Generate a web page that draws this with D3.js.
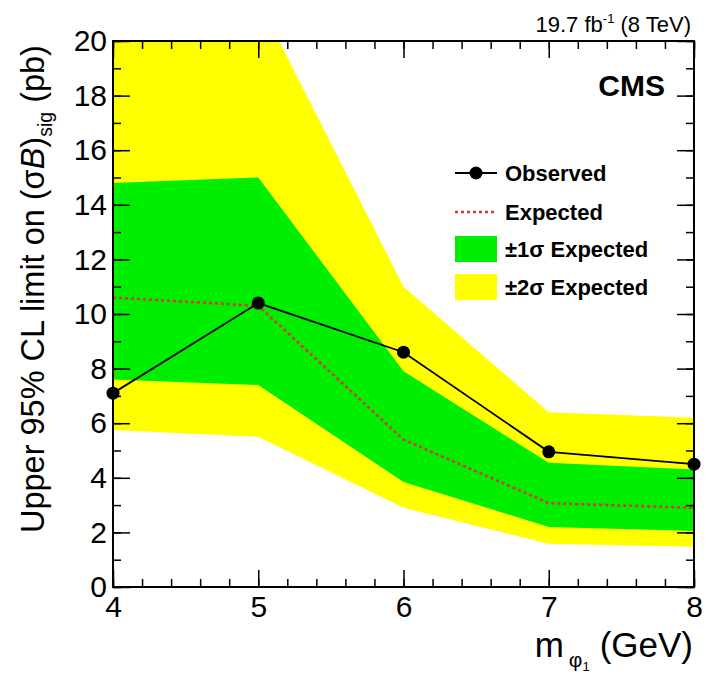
<!DOCTYPE html>
<html>
<head>
<meta charset="utf-8">
<script src="https://cdn.jsdelivr.net/npm/d3@7"></script>
<style>
  body { margin: 0; background: #fff; }
  svg text { font-family: "Liberation Sans", Arial, Helvetica, sans-serif; }
</style>
</head>
<body>
<div id="chart"></div>
<script>
// Valores
const masses = [4, 5, 6, 7, 8];
const observed = [7.1, 10.4, 8.6, 4.95, 4.5];
const expected = [10.6, 10.3, 5.4, 3.07, 2.9];
const sigma1Up = [14.8, 15.0, 7.9, 4.55, 4.3];
const sigma1Down = [7.6, 7.4, 3.85, 2.2, 2.05];
const sigma2Up = [22.0, 21.5, 11.0, 6.4, 6.2];
const sigma2Down = [5.75, 5.5, 2.9, 1.58, 1.47];

const xTicks = [4, 5, 6, 7, 8];
const yTicks = [0, 2, 4, 6, 8, 10, 12, 14, 16, 18, 20];
const legendLabels = ["Observed", "Expected", "\u00b11\u03c3 Expected", "\u00b12\u03c3 Expected"];

const WIDTH = 708;
const HEIGHT = 678;
const MARGIN = { top: 41, bottom: 91, left: 113, right: 14 };

const YELLOW = "#ffff00";
const GREEN = "#00ee00";
const RED = "#e0303a";

const svg = d3.select("#chart").append("svg").attr("width", WIDTH).attr("height", HEIGHT);

const x = d3.scaleLinear().domain([4, 8]).range([MARGIN.left, WIDTH - MARGIN.right]);
const y = d3.scaleLinear().domain([0, 20]).range([HEIGHT - MARGIN.bottom, MARGIN.top]);

const rows = masses.map((m, i) => ({
  m: m, obs: observed[i], exp: expected[i],
  s1u: sigma1Up[i], s1d: sigma1Down[i], s2u: sigma2Up[i], s2d: sigma2Down[i]
}));

// Recorte al area del grafico
svg.append("clipPath").attr("id", "plot-clip")
  .append("rect")
  .attr("x", x(4)).attr("y", y(20))
  .attr("width", x(8) - x(4)).attr("height", y(0) - y(20));

const plot = svg.append("g").attr("clip-path", "url(#plot-clip)");

// Bandas
const area2 = d3.area().x(d => x(d.m)).y0(d => y(d.s2d)).y1(d => y(d.s2u));
const area1 = d3.area().x(d => x(d.m)).y0(d => y(d.s1d)).y1(d => y(d.s1u));
plot.append("path").datum(rows).attr("d", area2).attr("fill", YELLOW);
plot.append("path").datum(rows).attr("d", area1).attr("fill", GREEN);

// Esperado
plot.append("path").datum(rows)
  .attr("d", d3.line().x(d => x(d.m)).y(d => y(d.exp)))
  .attr("fill", "none").attr("stroke", RED).attr("stroke-width", 2.5)
  .attr("stroke-dasharray", "3,3");

// Observado
plot.append("path").datum(rows)
  .attr("d", d3.line().x(d => x(d.m)).y(d => y(d.obs)))
  .attr("fill", "none").attr("stroke", "#000").attr("stroke-width", 1.8);

svg.selectAll(".obs-dot").data(rows).join("circle").attr("class", "obs-dot")
  .attr("cx", d => x(d.m)).attr("cy", d => y(d.obs)).attr("r", 6.5).attr("fill", "#000");

// Ejes (ticks hacia adentro, estilo ROOT)
const xMinor = d3.range(4, 8.001, 0.2);
const yMinor = d3.range(0, 20.001, 1);

function styleAxis(g) {
  g.select(".domain").remove();
  g.selectAll("line").attr("stroke", "#000").attr("stroke-width", 1.5);
  g.selectAll("text").attr("font-size", "30px").attr("fill", "#000");
}

const H = HEIGHT - MARGIN.bottom;
const R = WIDTH - MARGIN.right;

svg.append("g").attr("transform", `translate(0,${H})`)
  .call(d3.axisBottom(x).tickValues(xMinor).tickSize(-8).tickFormat("")).call(styleAxis);
svg.append("g").attr("transform", `translate(0,${H})`)
  .call(d3.axisBottom(x).tickValues(xTicks).tickSize(-17).tickPadding(9).tickFormat(d3.format("d"))).call(styleAxis);
svg.append("g").attr("transform", `translate(0,${MARGIN.top})`)
  .call(d3.axisTop(x).tickValues(xMinor).tickSize(-8).tickFormat("")).call(styleAxis);
svg.append("g").attr("transform", `translate(0,${MARGIN.top})`)
  .call(d3.axisTop(x).tickValues(xTicks).tickSize(-17).tickFormat("")).call(styleAxis);

svg.append("g").attr("transform", `translate(${MARGIN.left},0)`)
  .call(d3.axisLeft(y).tickValues(yMinor).tickSize(-8).tickFormat("")).call(styleAxis);
svg.append("g").attr("transform", `translate(${MARGIN.left},0)`)
  .call(d3.axisLeft(y).tickValues(yTicks).tickSize(-17).tickPadding(6).tickFormat(d3.format("d"))).call(styleAxis);
svg.append("g").attr("transform", `translate(${R},0)`)
  .call(d3.axisRight(y).tickValues(yMinor).tickSize(-8).tickFormat("")).call(styleAxis);
svg.append("g").attr("transform", `translate(${R},0)`)
  .call(d3.axisRight(y).tickValues(yTicks).tickSize(-17).tickFormat("")).call(styleAxis);

// Marco
svg.append("rect")
  .attr("x", x(4)).attr("y", y(20))
  .attr("width", x(8) - x(4)).attr("height", y(0) - y(20))
  .attr("fill", "none").attr("stroke", "#000").attr("stroke-width", 2);

// Titulo del eje X
const xl = svg.append("text").attr("x", R - 1).attr("y", 657)
  .attr("text-anchor", "end").attr("font-size", "35px");
xl.append("tspan").text("m");
xl.append("tspan").attr("font-size", "21px").attr("dy", 10).attr("dx", 5).text("\u03c6");
xl.append("tspan").attr("font-size", "13px").attr("dy", 4).text("1");
xl.append("tspan").attr("dy", -14).attr("dx", 10).text("(GeV)");

// Titulo del eje Y: de y=533 (abajo) a y=45 (arriba)
const yl = svg.append("text")
  .attr("transform", "translate(44,533) rotate(-90)")
  .attr("text-anchor", "start").attr("font-size", "30px");
yl.append("tspan").text("Upper 95% CL limit on (\u03c3");
yl.append("tspan").attr("font-style", "italic").text("B");
yl.append("tspan").text(")");
yl.append("tspan").attr("class", "sub").attr("font-size", "18px").attr("dy", 8).text("sig");
yl.append("tspan").attr("dy", -8).text(" (pb)");
const ylLen = yl.node().getComputedTextLength();
const ylSize = 30 * 488 / ylLen;
yl.attr("font-size", ylSize + "px");
yl.select(".sub").attr("font-size", (ylSize * 0.6) + "px");

// Luminosidad
const lumi = svg.append("text").attr("x", R - 3).attr("y", 32)
  .attr("text-anchor", "end").attr("font-size", "22px");
lumi.append("tspan").text("19.7 fb");
lumi.append("tspan").attr("font-size", "13px").attr("dy", -9).text("-1");
lumi.append("tspan").attr("dy", 9).text(" (8 TeV)");

// CMS
svg.append("text").attr("x", 665).attr("y", 96).attr("text-anchor", "end")
  .attr("font-size", "30px").attr("font-weight", "bold").text("CMS");

// Leyenda
const legendY = [173, 212, 249, 287];
const lg = svg.append("g");
lg.append("line").attr("x1", 455).attr("x2", 497).attr("y1", legendY[0]).attr("y2", legendY[0])
  .attr("stroke", "#000").attr("stroke-width", 1.8);
lg.append("circle").attr("cx", 476).attr("cy", legendY[0]).attr("r", 6.5).attr("fill", "#000");
lg.append("line").attr("x1", 455).attr("x2", 497).attr("y1", legendY[1]).attr("y2", legendY[1])
  .attr("stroke", RED).attr("stroke-width", 2.5).attr("stroke-dasharray", "3,3");
lg.append("rect").attr("x", 455).attr("y", legendY[2] - 13).attr("width", 42).attr("height", 26).attr("fill", GREEN);
lg.append("rect").attr("x", 455).attr("y", legendY[3] - 13).attr("width", 42).attr("height", 26).attr("fill", YELLOW);
lg.selectAll(".leg-text").data(legendLabels).join("text").attr("class", "leg-text")
  .attr("x", 505).attr("y", (d, i) => legendY[i]).attr("dy", "0.36em")
  .attr("font-size", "22px").attr("font-weight", "bold").text(d => d);
</script>
</body>
</html>
